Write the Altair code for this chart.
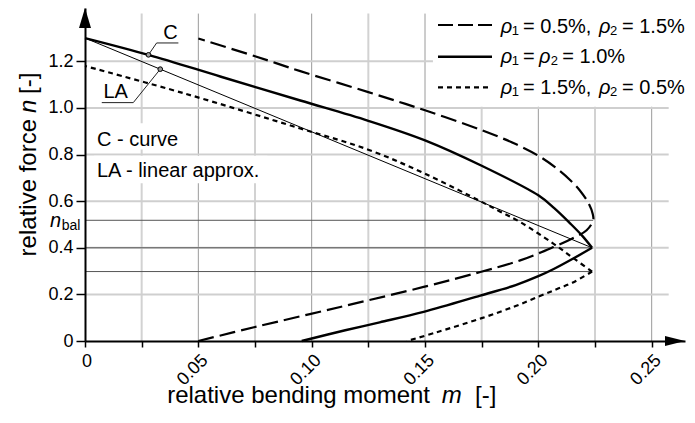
import altair as alt
import pandas as pd

# ---------------- data ----------------
# rho1 = 0.5 %, rho2 = 1.5 %  (dashed, one smooth curve: bottom -> nose -> top)
dash_m = [0.050, 0.075, 0.1126, 0.1494, 0.1744, 0.192, 0.2066, 0.215, 0.2213, 0.2242,
          0.2240, 0.2222, 0.2184, 0.2141, 0.2075, 0.200, 0.190, 0.175, 0.150, 0.125, 0.095, 0.075, 0.050]
dash_n = [0.0, 0.060, 0.146, 0.232, 0.296, 0.346, 0.403, 0.440, 0.475, 0.518,
          0.545, 0.590, 0.645, 0.690, 0.745, 0.795, 0.845, 0.905, 0.990, 1.068, 1.158, 1.222, 1.298]

# rho1 = rho2 = 1.0 %  (solid, sharp vertex at n = 0.40)
solid_up_m = [0.2237, 0.2195, 0.214, 0.207, 0.200, 0.175, 0.150, 0.125, 0.095, 0.060, 0.028, 0.0]
solid_up_n = [0.400, 0.450, 0.505, 0.570, 0.625, 0.752, 0.861, 0.945, 1.032, 1.134, 1.228, 1.300]
solid_lo_m = [0.2237, 0.2156, 0.207, 0.200, 0.190, 0.1744, 0.1494, 0.130, 0.1148, 0.0956]
solid_lo_n = [0.400, 0.355, 0.310, 0.278, 0.240, 0.195, 0.125, 0.080, 0.046, 0.0]

# rho1 = 1.5 %, rho2 = 0.5 %  (dotted, sharp vertex at n = 0.30)
dot_up_m = [0.2237, 0.2154, 0.2066, 0.1919, 0.183, 0.175, 0.150, 0.125, 0.095, 0.044, 0.0]
dot_up_n = [0.298, 0.356, 0.418, 0.511, 0.556, 0.597, 0.718, 0.821, 0.912, 1.062, 1.180]
dot_lo_m = [0.2237, 0.215, 0.208, 0.200, 0.190, 0.175, 0.155, 0.142]
dot_lo_n = [0.298, 0.250, 0.222, 0.190, 0.150, 0.098, 0.037, 0.0]

# linear approximation (thin line)
la_m = [0.0, 0.2237]
la_n = [1.300, 0.400]

# balance-point levels n_bal and the moment where each ends
bal_n = [0.518, 0.400, 0.298]
bal_m = [0.2242, 0.2237, 0.2237]

# tick values / labels
x_ticks = [0.0, 0.025, 0.05, 0.075, 0.10, 0.125, 0.15, 0.175, 0.20, 0.225, 0.25]
y_ticks = [0.0, 0.2, 0.4, 0.6, 0.8, 1.0, 1.2]
grid_x = [0.025, 0.05, 0.075, 0.10, 0.125, 0.15, 0.175, 0.20, 0.225, 0.25]
grid_y = [0.2, 0.4, 0.6, 0.8, 1.0, 1.2]

# legend text pieces (rho italic, subscripts small)
leg_rows = 3
leg_main = [["= 0.5%,", "= 1.5%"], ["=", "= 1.0%"], ["= 1.5%,", "= 0.5%"]]
leg_subs = [["1", "2"], ["1", "2"], ["1", "2"]]

# ---------------- layout ----------------
FONT = "Liberation Sans"
X_MAX = 0.2647
Y_MAX = 1.429
W, H = 600, 333
PX0, PXS = 85.0, W / X_MAX       # page x of m=0 and px per unit m
PY0, PYS = 341.0, H / Y_MAX      # page y of n=0 and px per unit n
GRID_TOP = 1.405
GRID_RIGHT = 0.2575


def mx(px):
    return (px - PX0) / PXS


def ny(py):
    return (PY0 - py) / PYS


xs = alt.Scale(domain=[0, X_MAX], nice=False, zero=False)
ys = alt.Scale(domain=[0, Y_MAX], nice=False, zero=False)

x_label_expr = ("datum.value < 0.001 ? '' : (abs(datum.value*20 - round(datum.value*20)) < 0.001 ? "
                "format(datum.value, '.2f') : '')")
y_label_expr = "datum.value == 0 ? '0' : format(datum.value, '.1f')"

AX_X = alt.Axis(
    values=x_ticks, labelExpr=x_label_expr, labelAngle=315, labelAlign="right",
    labelBaseline="top", labelFont=FONT, labelFontSize=18, labelColor="black",
    labelPadding=4, labelOverlap=False, labelFlush=False, tickSize=6, tickColor="black",
    tickWidth=1.5, domainColor="black", domainWidth=2, grid=False, title=None, zindex=1)
AX_Y = alt.Axis(
    values=y_ticks, labelExpr=y_label_expr, labelFont=FONT, labelFontSize=18,
    labelColor="black", labelPadding=3, tickSize=9, tickColor="black", tickWidth=1.5,
    domainColor="black", domainWidth=2, grid=False, title=None, zindex=1)


def X(f):
    return alt.X(f, type="quantitative", scale=xs, axis=AX_X)


def Y(f):
    return alt.Y(f, type="quantitative", scale=ys, axis=AX_Y)


def curve(ms, ns, name):
    return pd.DataFrame({"m": ms, "n": ns, "o": list(range(len(ms))), "name": name})


# vertical grid
vg = pd.DataFrame({"m": grid_x, "n0": 0.0, "n1": GRID_TOP,
                   "major": [abs(v * 20 - round(v * 20)) < 1e-6 for v in grid_x]})
vgrid_minor = alt.Chart(vg[~vg.major]).mark_rule(color="#d2d2d2", strokeWidth=2).encode(
    x=X("m:Q"), y=Y("n0:Q"), y2="n1:Q")
vgrid_major = alt.Chart(vg[vg.major]).mark_rule(color="#9a9a9a", strokeWidth=1).encode(
    x=X("m:Q"), y=Y("n0:Q"), y2="n1:Q")

hg = pd.DataFrame({"n": grid_y, "m0": 0.0, "m1": GRID_RIGHT})
hgrid = alt.Chart(hg).mark_rule(color="#cfcfcf", strokeWidth=2).encode(
    y=Y("n:Q"), x=X("m0:Q"), x2="m1:Q")

# white boxes (legend area and the two text notes)
boxes = pd.DataFrame({"x0": [0.1535, 0.004, 0.004], "x1": [X_MAX + 0.01, 0.046, 0.0805],
                      "y0": [1.005, 0.822, 0.677], "y1": [Y_MAX, 0.934, 0.795]})
white = alt.Chart(boxes).mark_rect(color="white", opacity=1).encode(
    x=X("x0:Q"), x2="x1:Q", y=Y("y0:Q"), y2="y1:Q")

# n_bal lines
bal = pd.DataFrame({"n": bal_n, "m0": 0.0, "m1": bal_m})
bal_rules = alt.Chart(bal).mark_rule(color="#555555", strokeWidth=1).encode(
    y=Y("n:Q"), x=X("m0:Q"), x2="m1:Q")

# curves
la = alt.Chart(curve(la_m, la_n, "la")).mark_line(color="black", strokeWidth=1).encode(
    x=X("m:Q"), y=Y("n:Q"), order="o:Q")
dashed = alt.Chart(curve(dash_m, dash_n, "d")).mark_line(
    color="black", strokeWidth=2.2, strokeDash=[16, 6], interpolate="catmull-rom").encode(
    x=X("m:Q"), y=Y("n:Q"), order="o:Q")
solid_df = pd.concat([curve(solid_up_m, solid_up_n, "up"), curve(solid_lo_m, solid_lo_n, "lo")])
solid = alt.Chart(solid_df).mark_line(color="black", strokeWidth=2.4, interpolate="catmull-rom").encode(
    x=X("m:Q"), y=Y("n:Q"), order="o:Q", detail="name:N")
dot_df = pd.concat([curve(dot_up_m, dot_up_n, "up"), curve(dot_lo_m, dot_lo_n, "lo")])
dotted = alt.Chart(dot_df).mark_line(
    color="black", strokeWidth=2.2, strokeDash=[5, 4], interpolate="catmull-rom").encode(
    x=X("m:Q"), y=Y("n:Q"), order="o:Q", detail="name:N")

# leader lines for C and LA
lead = pd.DataFrame({"m": [0.028, 0.0316, 0.0412, 0.0332, 0.0213, 0.0074],
                     "n": [1.228, 1.279, 1.279, 1.1665, 1.023, 1.023],
                     "o": [0, 1, 2, 0, 1, 2], "name": ["c", "c", "c", "la", "la", "la"]})
leaders = alt.Chart(lead).mark_line(color="#222222", strokeWidth=1).encode(
    x=X("m:Q"), y=Y("n:Q"), order="o:Q", detail="name:N")
marks = alt.Chart(pd.DataFrame({"m": [0.028, 0.0332], "n": [1.228, 1.1665]})).mark_point(
    shape="circle", size=22, fill="#9a9a9a", stroke="black", strokeWidth=1, opacity=1,
    fillOpacity=1).encode(x=X("m:Q"), y=Y("n:Q"))


# texts in data space
def txt(df, **kw):
    return alt.Chart(df).mark_text(font=FONT, color="black", **kw).encode(
        x=X("x:Q"), y=Y("y:Q"), text="t:N")


notes = txt(pd.DataFrame({"x": [mx(97), mx(97)], "y": [ny(140), ny(171)],
                          "t": ["C - curve", "LA - linear approx."]}),
            fontSize=20, align="left", baseline="middle")
labels_c = txt(pd.DataFrame({"x": [mx(170.5), mx(115.7)], "y": [ny(32.5), ny(91.7)], "t": ["C", "LA"]}),
               fontSize=20, align="center", baseline="middle")
zero_x = txt(pd.DataFrame({"x": [mx(87)], "y": [ny(361.5)], "t": ["0"]}),
             fontSize=18, align="center", baseline="middle")
nbal_n = txt(pd.DataFrame({"x": [mx(50)], "y": [ny(226.5)], "t": ["n"]}),
             fontSize=20, fontStyle="italic", align="left", baseline="alphabetic")
nbal_sub = txt(pd.DataFrame({"x": [mx(61.7)], "y": [ny(229.5)], "t": ["bal"]}),
               fontSize=14, align="left", baseline="alphabetic")

# legend: line samples
leg_line_py = [25.0, 56.7, 87.3]
leg_base_py = [33.3, 63.3, 94.3]
leg_df = pd.DataFrame({"x0": mx(438), "x1": mx(492), "y": [ny(v) for v in leg_line_py]})
leg_dash = alt.Chart(leg_df.iloc[[0]]).mark_rule(color="black", strokeWidth=2.2, strokeDash=[15, 5]).encode(
    x=X("x0:Q"), x2="x1:Q", y=Y("y:Q"))
leg_solid = alt.Chart(leg_df.iloc[[1]]).mark_rule(color="black", strokeWidth=2.4).encode(
    x=X("x0:Q"), x2="x1:Q", y=Y("y:Q"))
leg_dot = alt.Chart(leg_df.iloc[[2]]).mark_rule(color="black", strokeWidth=2.2, strokeDash=[5, 4]).encode(
    x=X("x0:Q"), x2="x1:Q", y=Y("y:Q"))

# legend: text pieces
rho_px = [[500.7, 599.0], [500.7, 539.0], [500.7, 599.0]]
sub_px = [[511.7, 610.0], [511.7, 550.7], [511.7, 610.0]]
main_px = [[523.0, 622.0], [523.0, 562.3], [523.0, 622.0]]
rho_rows, sub_rows, main_rows = [], [], []
for r in range(leg_rows):
    for k in range(2):
        rho_rows.append({"x": mx(rho_px[r][k]), "y": ny(leg_base_py[r]), "t": "ρ"})
        sub_rows.append({"x": mx(sub_px[r][k]), "y": ny(leg_base_py[r] + 1.5), "t": leg_subs[r][k]})
        main_rows.append({"x": mx(main_px[r][k]), "y": ny(leg_base_py[r]), "t": leg_main[r][k]})
leg_rho = txt(pd.DataFrame(rho_rows), fontSize=20, fontStyle="italic", align="left", baseline="alphabetic")
leg_sub = txt(pd.DataFrame(sub_rows), fontSize=13, align="left", baseline="alphabetic")
leg_main_t = txt(pd.DataFrame(main_rows), fontSize=20, align="left", baseline="alphabetic")

# axis arrows
arrows = alt.Chart(pd.DataFrame({"m": [X_MAX], "n": [0.0]})).mark_point(
    shape="M-2,-0.5L0,0L-2,0.5Z", size=400, filled=True, color="black", opacity=1,
    strokeWidth=0).encode(x=X("m:Q"), y=Y("n:Q"))
arrow_y = alt.Chart(pd.DataFrame({"m": [0.0], "n": [Y_MAX]})).mark_point(
    shape="M-0.6,2L0,0L0.6,2Z", size=400, filled=True, color="black", opacity=1,
    strokeWidth=0).encode(x=X("m:Q"), y=Y("n:Q"))


# axis titles (pieces so that m and n are italic); values are plot-area pixels
def ptxt(t, x, y, **kw):
    return alt.Chart(pd.DataFrame({"t": [t]})).mark_text(font=FONT, fontSize=24, color="black", **kw).encode(
        x=alt.value(x), y=alt.value(y), text="t:N")


xt1 = ptxt("relative bending moment", 345, 395, align="right", baseline="alphabetic")
xt2 = ptxt("m", 356.7, 395, align="left", baseline="alphabetic", fontStyle="italic")
xt3 = ptxt("[-]", 390, 395, align="left", baseline="alphabetic")
yt1 = ptxt("relative force", -49, 111, align="right", baseline="alphabetic", angle=270)
yt2 = ptxt("n", -49, 105, align="left", baseline="alphabetic", angle=270, fontStyle="italic")
yt3 = ptxt("[-]", -49, 86, align="left", baseline="alphabetic", angle=270)

chart = alt.layer(
    vgrid_minor, vgrid_major, hgrid, white, bal_rules, la, dashed, solid, dotted,
    leaders, marks, notes, labels_c, zero_x, nbal_n, nbal_sub,
    leg_dash, leg_solid, leg_dot, leg_rho, leg_sub, leg_main_t, arrows, arrow_y,
    xt1, xt2, xt3, yt1, yt2, yt3,
).properties(
    width=W, height=H,
    padding={"left": 77, "top": 0, "right": 2, "bottom": 70},
    autosize=alt.AutoSizeParams(type="none"),
).configure_view(strokeWidth=0)

chart.save("out.html", embed_options={"renderer": "svg", "actions": False})
